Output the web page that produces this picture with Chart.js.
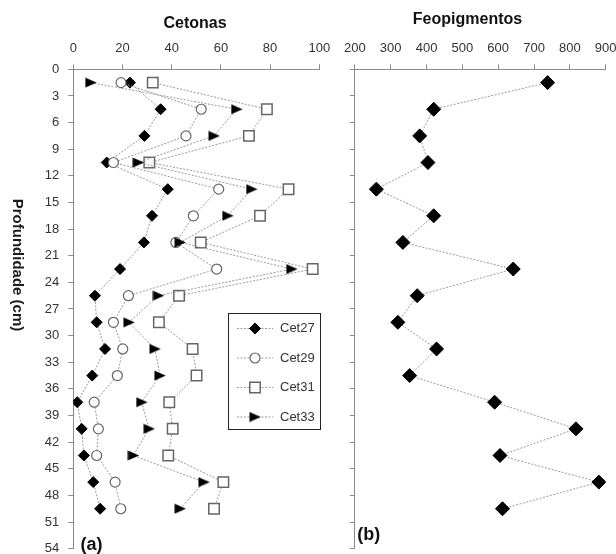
<!DOCTYPE html>
<html>
<head>
<meta charset="utf-8">
<title>Cetonas e Feopigmentos</title>
<script src="https://cdn.jsdelivr.net/npm/chart.js"></script>
<style>
  html, body { margin: 0; padding: 0; background: #fff; overflow: hidden; width: 616px; height: 554px; }
  #wrap { position: relative; width: 616px; height: 554px; overflow: hidden; }
  canvas { position: absolute; top: 0; }
  #cetonas { left: 0; }
  #feo { left: 336px; }
</style>
</head>
<body>
<div id="wrap">
  <canvas id="cetonas" width="340" height="570"></canvas>
  <canvas id="feo" width="290" height="570"></canvas>
</div>
<script>
// Sample depths (cm), mid-point of each 3 cm layer
const depthCm = [1.5, 4.5, 7.5, 10.5, 13.5, 16.5, 19.5, 22.5, 25.5, 28.5, 31.5, 34.5, 37.5, 40.5, 43.5, 46.5, 49.5];

// Ketone series
const cet27 = [23.0, 35.5, 28.9, 13.6, 38.4, 32.0, 28.7, 19.0, 8.8, 9.5, 12.9, 7.7, 1.6, 3.4, 4.3, 8.1, 10.9];
const cet29 = [19.4, 52.0, 45.8, 16.3, 59.1, 48.8, 41.7, 58.3, 22.4, 16.3, 20.1, 17.9, 8.5, 10.2, 9.5, 17.0, 19.3];
const cet31 = [32.3, 78.7, 71.4, 30.9, 87.5, 75.9, 51.8, 97.3, 43.0, 34.8, 48.5, 50.1, 39.0, 40.4, 38.6, 61.0, 57.2];
const cet33 = [7.1, 66.4, 57.2, 26.4, 72.5, 62.8, 43.4, 88.8, 34.6, 22.6, 33.2, 35.2, 27.8, 30.8, 24.4, 53.1, 43.4];

// Pheopigments
const feopigmentos = [738, 420, 381, 404, 260, 420, 334, 642, 374, 320, 428, 353, 590, 817, 605, 881, 612];

const FONT = "'Liberation Sans', Arial, sans-serif";
const AXIS_GREY = '#8a8a8a';
const LINE_GREY = '#9a9a9a';

// Right-pointing triangle marker
function triangleMarker() {
  const c = document.createElement('canvas');
  c.width = 12; c.height = 11;
  const g = c.getContext('2d');
  g.fillStyle = '#000';
  g.beginPath();
  g.moveTo(0.5, 0.5);
  g.lineTo(11.8, 5.5);
  g.lineTo(0.5, 10.5);
  g.closePath();
  g.fill();
  return c;
}

function profile(values) {
  return values.map((v, i) => ({ x: v, y: depthCm[i] }));
}

function lineSeries(label, values, marker, extra) {
  return Object.assign({
    label: label,
    data: profile(values),
    showLine: true,
    borderColor: LINE_GREY,
    borderWidth: 1,
    borderDash: [2, 1.5],
    pointStyle: marker,
    pointRadius: 5.5,
    pointHoverRadius: 5.5,
    pointBackgroundColor: '#000',
    pointBorderColor: '#000',
    pointBorderWidth: 1
  }, extra || {});
}

// Free-standing text: titles and panel letters
const textLayer = {
  id: 'textLayer',
  afterDraw(chart, args, opts) {
    const ctx = chart.ctx;
    (opts.items || []).forEach(t => {
      ctx.save();
      ctx.font = t.font;
      ctx.fillStyle = t.color || '#111';
      ctx.textAlign = t.align || 'center';
      ctx.textBaseline = 'middle';
      ctx.translate(t.x, t.y);
      if (t.rotate) ctx.rotate(t.rotate);
      ctx.fillText(t.text, 0, 0);
      ctx.restore();
    });
  }
};

// Boxed series key drawn inside the plot
const boxLegend = {
  id: 'boxLegend',
  afterDraw(chart, args, o) {
    if (!o || !o.display) return;
    const ctx = chart.ctx;
    ctx.save();
    ctx.fillStyle = '#fff';
    ctx.fillRect(o.x, o.y, o.w, o.h);
    ctx.strokeStyle = '#222';
    ctx.lineWidth = 1;
    ctx.strokeRect(o.x + 0.5, o.y + 0.5, o.w, o.h);
    chart.data.datasets.forEach((ds, i) => {
      const y = o.firstRow + i * o.rowGap;
      ctx.save();
      ctx.strokeStyle = ds.borderColor;
      ctx.lineWidth = ds.borderWidth;
      ctx.setLineDash(ds.borderDash || []);
      ctx.beginPath();
      ctx.moveTo(o.x + o.lineFrom, y);
      ctx.lineTo(o.x + o.lineTo, y);
      ctx.stroke();
      ctx.restore();
      ctx.fillStyle = ds.pointBackgroundColor;
      ctx.strokeStyle = ds.pointBorderColor;
      ctx.lineWidth = ds.pointBorderWidth;
      Chart.helpers.drawPoint(ctx, {
        pointStyle: ds.pointStyle,
        rotation: 0,
        radius: ds.pointRadius,
        borderWidth: ds.pointBorderWidth
      }, o.x + o.marker, y);
      ctx.fillStyle = o.color;
      ctx.font = o.font;
      ctx.textAlign = 'left';
      ctx.textBaseline = 'middle';
      ctx.fillText(ds.label, o.x + o.textX, y);
    });
    ctx.restore();
  }
};

function depthAxis(showLabels, width) {
  return {
    type: 'linear',
    position: 'left',
    reverse: true,
    min: 0,
    max: 54,
    ticks: {
      display: showLabels,
      stepSize: 3,
      autoSkip: false,
      padding: 9,
      color: '#333',
      font: { family: FONT, size: 13 }
    },
    grid: { drawOnChartArea: false, drawTicks: true, tickLength: 5, color: AXIS_GREY },
    border: { display: true, color: AXIS_GREY, width: 1 },
    afterFit(s) { s.width = width; }
  };
}

function valueAxis(min, max, step) {
  return {
    type: 'linear',
    position: 'top',
    min: min,
    max: max,
    ticks: {
      stepSize: step,
      padding: 8,
      color: '#333',
      font: { family: FONT, size: 13 }
    },
    grid: { drawOnChartArea: false, drawTicks: true, tickLength: 5, color: AXIS_GREY },
    border: { display: true, color: AXIS_GREY, width: 1 },
    afterFit(s) { s.height = 69.3; }
  };
}

const common = {
  responsive: false,
  animation: false,
  devicePixelRatio: 1,
  events: []
};

new Chart(document.getElementById('cetonas'), {
  type: 'scatter',
  data: {
    datasets: [
      lineSeries('Cet27', cet27, 'rectRot', { order: 3 }),
      lineSeries('Cet29', cet29, 'circle', {
        order: 2, pointRadius: 5, pointHoverRadius: 5,
        pointBackgroundColor: '#fff', pointBorderColor: '#666', pointBorderWidth: 1.2
      }),
      lineSeries('Cet31', cet31, 'rect', {
        order: 1, pointRadius: 7.4, pointHoverRadius: 7.4,
        pointBackgroundColor: '#fff', pointBorderColor: '#666', pointBorderWidth: 1.5
      }),
      lineSeries('Cet33', cet33, triangleMarker(), { order: 0 })
    ]
  },
  options: Object.assign({}, common, {
    layout: { padding: { left: 0, top: 0, right: 20.7, bottom: 21.3 } },
    scales: {
      x: valueAxis(0, 100, 20),
      y: depthAxis(true, 73.3)
    },
    plugins: {
      legend: { display: false },
      tooltip: { enabled: false },
      boxLegend: {
        display: true,
        x: 228, y: 313, w: 92, h: 116,
        firstRow: 328.5, rowGap: 29.5,
        lineFrom: 9, lineTo: 45, marker: 27, textX: 52,
        color: '#333', font: "13px " + FONT
      },
      textLayer: {
        items: [
          { text: 'Cetonas', x: 195, y: 23.5, font: "bold 16px " + FONT },
          { text: 'Profundidade (cm)', x: 17.5, y: 265, rotate: Math.PI / 2, font: "bold 15px " + FONT, color: '#1a1a1a' },
          { text: '(a)', x: 80.5, y: 545, align: 'left', font: "bold 18px " + FONT }
        ]
      }
    }
  }),
  plugins: [boxLegend, textLayer]
});

new Chart(document.getElementById('feo'), {
  type: 'scatter',
  data: {
    datasets: [
      lineSeries('Feopigmentos', feopigmentos, 'rectRot', { pointRadius: 7, pointHoverRadius: 7 })
    ]
  },
  options: Object.assign({}, common, {
    layout: { padding: { left: 0, top: 0, right: 20.3, bottom: 21.3 } },
    scales: {
      x: valueAxis(200, 900, 100),
      y: depthAxis(false, 16.5)
    },
    plugins: {
      legend: { display: false },
      tooltip: { enabled: false },
      textLayer: {
        items: [
          { text: 'Feopigmentos', x: 131.5, y: 20, font: "bold 16px " + FONT },
          { text: '(b)', x: 21.3, y: 535, align: 'left', font: "bold 18px " + FONT }
        ]
      }
    }
  }),
  plugins: [textLayer]
});
</script>
</body>
</html>
